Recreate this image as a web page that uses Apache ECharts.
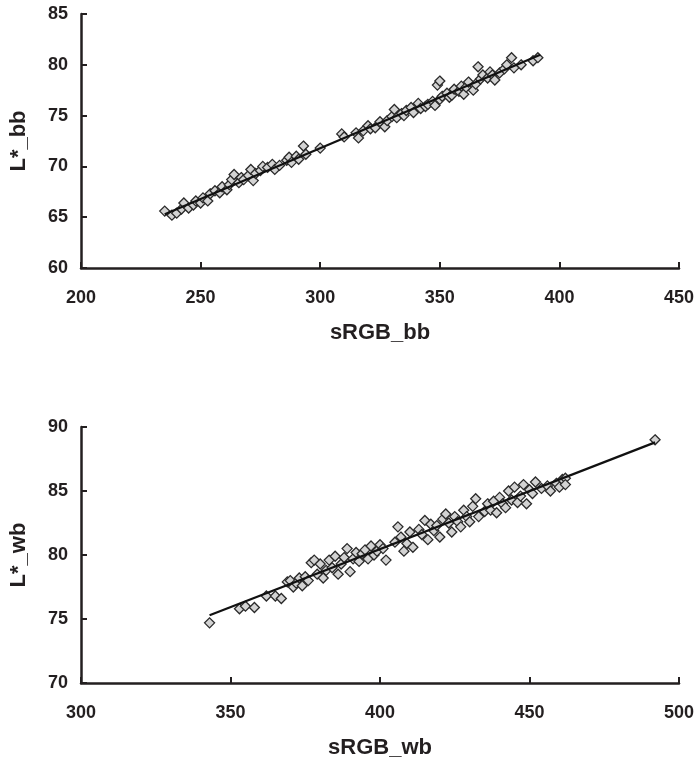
<!DOCTYPE html>
<html>
<head>
<meta charset="utf-8">
<script src="https://cdn.jsdelivr.net/npm/echarts@6/dist/echarts.min.js"></script>
<style>
  html, body { margin: 0; padding: 0; background: #fff; }
  #chart { width: 699px; height: 767px; }
</style>
</head>
<body>
<div id="chart"></div>
<script>
// top panel: sRGB_bb vs L*_bb
var bbPoints = [
  [235,65.6],[238,65.2],[240,65.4],[242,65.8],[243,66.4],[245,65.9],[247,66.2],[248,66.6],
  [250,66.4],[251,66.9],[253,66.6],[254,67.3],[256,67.6],[258,67.4],[259,68.0],[261,67.7],
  [262,68.2],[263,68.7],[264,69.2],[266,68.4],[267,68.9],[268,68.7],[270,69.1],[271,69.7],
  [272,68.6],[273,69.3],[275,69.6],[276,70.0],[278,69.9],[280,70.2],[281,69.7],[283,70.1],
  [286,70.6],[287,70.9],[288,70.4],[290,71.0],[291,70.7],[293,72.0],[294,71.2],[300,71.8],
  [309,73.2],[310,72.9],[315,73.3],[316,72.8],[318,73.5],[320,74.0],[321,73.7],[323,73.8],
  [325,74.4],[327,73.9],[328,74.5],[330,74.9],[331,75.6],[332,74.8],[334,75.2],[335,75.0],
  [336,75.5],[338,75.8],[339,75.3],[341,76.2],[342,75.7],[344,75.9],[345,76.1],[347,76.4],
  [348,76.0],[349,78.0],[350,78.4],[350,76.6],[351,76.9],[353,77.2],[354,76.8],[355,77.0],
  [356,77.6],[358,77.4],[359,77.9],[360,77.1],[361,77.8],[362,78.3],[364,77.5],[365,78.1],
  [366,79.8],[367,78.6],[368,79.0],[370,78.7],[371,79.3],[372,79.0],[373,78.5],[375,79.2],
  [377,79.6],[378,80.0],[380,80.7],[381,79.7],[384,80.0],[389,80.4],[391,80.7]
];
var bbTrend = [[235,65.3],[392,81.0]];
var bbXTicks = { min: 200, max: 450, step: 50 };
var bbYTicks = { min: 60, max: 85, step: 5 };

// bottom panel: sRGB_wb vs L*_wb
var wbPoints = [
  [343,74.7],[353,75.8],[355,76.0],[358,75.9],[362,76.8],[365,76.8],[367,76.6],[369,77.9],
  [370,78.0],[371,77.5],[372,77.8],[373,78.2],[374,77.6],[375,78.3],[376,78.0],[377,79.4],
  [378,79.6],[379,78.5],[380,79.3],[381,78.2],[382,78.8],[383,79.6],[384,79.0],[385,79.9],
  [386,78.5],[387,79.3],[388,79.8],[389,80.5],[390,78.7],[391,79.7],[392,80.2],[393,79.5],
  [394,80.1],[395,80.4],[396,79.7],[397,80.7],[398,80.0],[399,80.3],[400,80.8],[401,80.5],
  [402,79.6],[405,81.0],[406,82.2],[407,81.4],[408,80.3],[409,80.9],[410,81.8],[411,80.6],
  [413,82.0],[414,81.6],[415,82.7],[416,81.2],[417,82.4],[418,81.9],[419,82.3],[420,81.4],
  [421,82.8],[422,83.2],[423,82.5],[424,81.8],[425,83.0],[426,82.6],[427,82.2],[428,83.5],
  [429,83.0],[430,82.6],[431,83.8],[432,84.4],[433,83.0],[435,83.4],[436,84.0],[437,83.5],
  [438,84.2],[439,83.3],[440,84.5],[441,84.0],[442,83.7],[443,85.0],[444,84.3],[445,85.3],
  [446,84.1],[447,84.6],[448,85.5],[449,84.0],[450,85.1],[451,84.8],[452,85.7],[454,85.2],
  [456,85.4],[457,85.0],[459,85.6],[460,85.3],[461,85.9],[462,86.0],[462,85.5],[492,89.0]
];
var wbTrend = [[343,75.3],[492,88.8]];
var wbXTicks = { min: 300, max: 500, step: 50 };
var wbYTicks = { min: 70, max: 90, step: 5 };

var ink = '#231f20';
var font = '"Liberation Sans", Arial, sans-serif';

function xAxis(idx, t, name) {
  return {
    type: 'value', gridIndex: idx, min: t.min, max: t.max, interval: t.step,
    name: name, nameLocation: 'middle', nameGap: 54,
    nameTextStyle: { fontFamily: font, fontWeight: 'bold', fontSize: 22, color: ink },
    axisLine: { lineStyle: { color: ink, width: 2.5 } },
    axisTick: { inside: true, length: 6, lineStyle: { color: ink, width: 2 } },
    axisLabel: { margin: 21, fontFamily: font, fontWeight: 'bold', fontSize: 18, color: ink },
    splitLine: { show: false }
  };
}

function yAxis(idx, t, name) {
  return {
    type: 'value', gridIndex: idx, min: t.min, max: t.max, interval: t.step,
    name: name, nameLocation: 'middle', nameGap: 51,
    nameTextStyle: { fontFamily: font, fontWeight: 'bold', fontSize: 22, color: ink },
    axisLine: { lineStyle: { color: ink, width: 2.5 } },
    axisTick: { inside: true, length: 6, lineStyle: { color: ink, width: 2 } },
    axisLabel: { margin: 13, fontFamily: font, fontWeight: 'bold', fontSize: 18, color: ink },
    splitLine: { show: false }
  };
}

function scatter(idx, pts) {
  return {
    type: 'scatter', xAxisIndex: idx, yAxisIndex: idx, data: pts,
    symbol: 'diamond', symbolSize: 10, z: 2,
    itemStyle: { color: '#d3d3d3', borderColor: '#2a2a2a', borderWidth: 1.3, opacity: 1 }
  };
}

function trend(idx, pts) {
  return {
    type: 'line', xAxisIndex: idx, yAxisIndex: idx, data: pts,
    showSymbol: false, symbol: 'none', z: 3, silent: true,
    lineStyle: { color: '#111', width: 2.2 }
  };
}

var myChart = echarts.init(document.getElementById('chart'));

var option = {
  animation: false,
  backgroundColor: '#fff',
  grid: [
    { left: 81, right: 20, top: 14, height: 254 },
    { left: 81, right: 20, top: 427, height: 256 }
  ],
  xAxis: [xAxis(0, bbXTicks, 'sRGB_bb'), xAxis(1, wbXTicks, 'sRGB_wb')],
  yAxis: [yAxis(0, bbYTicks, 'L*_bb'), yAxis(1, wbYTicks, 'L*_wb')],
  series: [
    scatter(0, bbPoints), trend(0, bbTrend),
    scatter(1, wbPoints), trend(1, wbTrend)
  ]
};

myChart.setOption(option);
</script>
</body>
</html>
